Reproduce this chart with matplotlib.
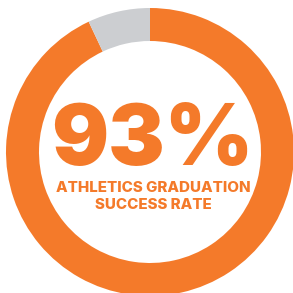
import matplotlib.pyplot as plt

# Donut values
values = [93, 7]
colors = ['#F47A2A', '#CCCED1']
big_label = '93%'
sub_lines = ['ATHLETICS GRADUATION', 'SUCCESS RATE']

W, H = 293, 293
fig = plt.figure(figsize=(W / 100, H / 100), dpi=100)
ax = fig.add_axes([0, 0, 1, 1])
ax.axis('off')

ax.pie(values, colors=colors, startangle=90, counterclock=False,
       center=(150, 141), radius=144,
       wedgeprops=dict(width=33, linewidth=0))
ax.set_xlim(0, W)
ax.set_ylim(0, H)
ax.set_aspect('equal')

font = ['Inter', 'DejaVu Sans']
ax.text(152.5, 128, big_label, ha='center', va='baseline', color=colors[0],
        fontsize=61, fontweight=900, family=font)
ax.text(153, 101, sub_lines[0], ha='center', va='baseline', color=colors[0],
        fontsize=10.9, fontweight=800, family=font)
ax.text(153.5, 84, sub_lines[1], ha='center', va='baseline', color=colors[0],
        fontsize=10.9, fontweight=800, family=font)

fig.savefig('out.png', dpi=100)
